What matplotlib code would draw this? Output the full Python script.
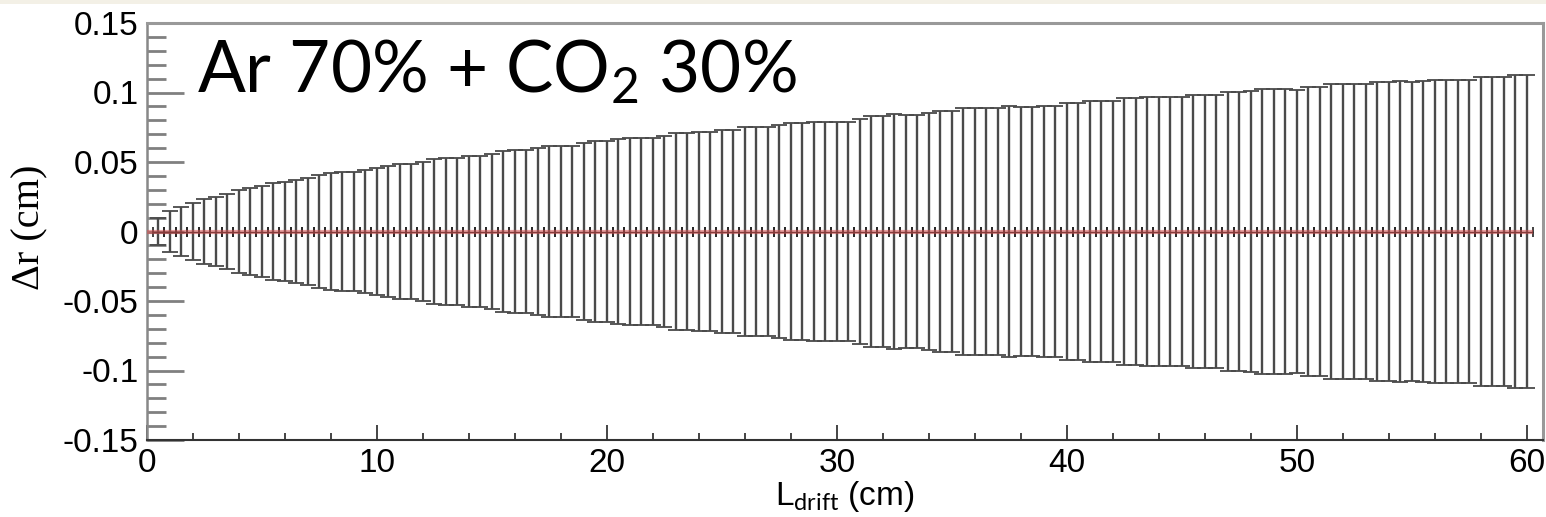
import numpy as np
import matplotlib
matplotlib.use("Agg")
import matplotlib.pyplot as plt
from matplotlib.ticker import MultipleLocator
from matplotlib.patches import Rectangle

# sigma of delta r per drift-length bin (cm), bins every 0.5 cm
bin_width = 0.5
sigma_dr = [
    0.0100, 0.0150, 0.0176, 0.0207, 0.0236, 0.0250, 0.0269, 0.0298, 0.0310, 0.0330,
    0.0347, 0.0359, 0.0370, 0.0387, 0.0404, 0.0419, 0.0428, 0.0428, 0.0443, 0.0460,
    0.0470, 0.0484, 0.0484, 0.0500, 0.0520, 0.0530, 0.0530, 0.0544, 0.0544, 0.0560,
    0.0580, 0.0587, 0.0587, 0.0604, 0.0616, 0.0616, 0.0616, 0.0635, 0.0650, 0.0650,
    0.0664, 0.0671, 0.0671, 0.0671, 0.0688, 0.0708, 0.0708, 0.0717, 0.0717, 0.0729,
    0.0729, 0.0749, 0.0749, 0.0749, 0.0765, 0.0780, 0.0780, 0.0789, 0.0789, 0.0789,
    0.0789, 0.0809, 0.0828, 0.0828, 0.0842, 0.0837, 0.0837, 0.0850, 0.0864, 0.0864,
    0.0886, 0.0886, 0.0886, 0.0886, 0.0900, 0.0894, 0.0894, 0.0905, 0.0905, 0.0924,
    0.0924, 0.0941, 0.0941, 0.0941, 0.0958, 0.0958, 0.0965, 0.0965, 0.0965, 0.0965,
    0.0982, 0.0982, 0.0982, 0.1001, 0.1001, 0.1013, 0.1025, 0.1025, 0.1025, 0.1020,
    0.1037, 0.1037, 0.1061, 0.1061, 0.1061, 0.1061, 0.1074, 0.1078, 0.1085, 0.1074,
    0.1080, 0.1093, 0.1093, 0.1093, 0.1093, 0.1110, 0.1110, 0.1110, 0.1127, 0.1127,
]
l_drift = bin_width * np.arange(1, len(sigma_dr) + 1)
mean_dr = [0.0] * len(sigma_dr)

x_ticks = [0, 10, 20, 30, 40, 50, 60]
y_ticks = [-0.15, -0.1, -0.05, 0, 0.05, 0.1, 0.15]
y_ticklabels = ["-0.15", "-0.1", "-0.05", "0", "0.05", "0.1", "0.15"]

plt.rcParams["font.family"] = ["Liberation Sans", "DejaVu Sans"]
plt.rcParams["mathtext.fontset"] = "custom"
plt.rcParams["mathtext.rm"] = "Lato"
plt.rcParams["mathtext.it"] = "Lato:italic"

fig = plt.figure(figsize=(15.46, 5.17), dpi=100)
fig.patch.set_facecolor("white")
fig.patches.append(Rectangle((0, 513 / 517), 1, 4 / 517, transform=fig.transFigure,
                             facecolor="#f3f0e6", edgecolor="none"))

ax = fig.add_axes([147 / 1546, 77 / 517, 1396 / 1546, 417 / 517])

# vertical error bars
ax.errorbar(l_drift, mean_dr, yerr=sigma_dr, fmt="none", ecolor="#4a4a4a",
            elinewidth=1.7, capsize=5.5, capthick=1.3)
# horizontal bin-width bars at the centre
ax.errorbar(l_drift, mean_dr, xerr=bin_width / 2, fmt="none", ecolor="#222222",
            elinewidth=1.0, capsize=3.5, capthick=1.2)
# fit line at zero
ax.hlines(0, 0, l_drift[-1] + bin_width / 2, color="#d85050", lw=3.0, alpha=0.55, zorder=5)

ax.set_xlim(0, 60.7)
ax.set_ylim(-0.15, 0.15)
ax.set_xticks(x_ticks)
ax.set_xticklabels([str(t) for t in x_ticks])
ax.set_yticks(y_ticks)
ax.set_yticklabels(y_ticklabels)
ax.xaxis.set_minor_locator(MultipleLocator(2))
ax.yaxis.set_minor_locator(MultipleLocator(0.01))

ax.tick_params(axis="y", which="major", direction="in", length=26.5, width=2.0,
               color="#808080", labelsize=24, pad=6, right=False)
ax.tick_params(axis="y", which="minor", direction="in", length=13.5, width=2.0,
               color="#808080", right=False)
ax.tick_params(axis="x", which="major", direction="in", length=10.5, width=1.4,
               color="#444444", labelsize=24, pad=6, top=False)
ax.tick_params(axis="x", which="minor", direction="in", length=5, width=1.4,
               color="#444444", top=False)

ax.spines["left"].set_color("#888888")
ax.spines["left"].set_linewidth(1.8)
ax.spines["bottom"].set_color("#333333")
ax.spines["bottom"].set_linewidth(1.5)
for s in ["top", "right"]:
    ax.spines[s].set_color("#999999")
    ax.spines[s].set_linewidth(2.2)

ax.set_xlabel(r"L$_{\mathrm{drift}}$ (cm)", fontsize=24, labelpad=0)
fig.text(30 / 1546, 1 - 227 / 517, "\u0394r (cm)", rotation=90, fontsize=29,
         family="Liberation Serif", ha="center", va="center")

ax.text(2.17, 0.0995, r"Ar 70% + CO$_2$ 30%", fontsize=51, family="Lato",
        ha="left", va="baseline", zorder=10)

fig.savefig("out.png", dpi=100)
